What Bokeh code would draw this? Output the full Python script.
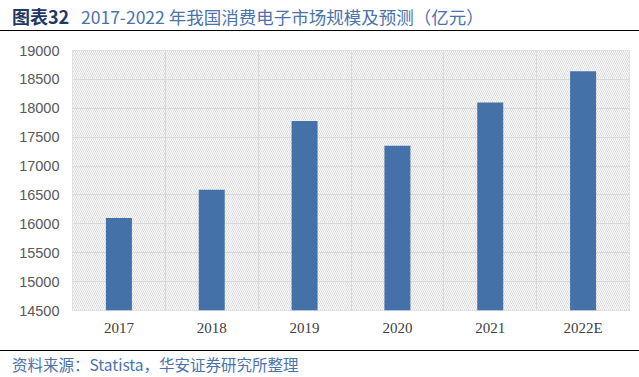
from bokeh.plotting import figure
from bokeh.layouts import column
from bokeh.models import Range1d, FixedTicker, Div
from bokeh.embed import file_html
from bokeh.resources import INLINE

# ---- data ----
categories = ["2017", "2018", "2019", "2020", "2021", "2022E"]
market_size = [16100, 16590, 17780, 17350, 18100, 18640]
y_ticks = [14500, 15000, 15500, 16000, 16500, 17000, 17500, 18000, 18500, 19000]
title_prefix = "图表32"
title_text = "2017-2022 年我国消费电子市场规模及预测（亿元）"
source_text = "资料来源：Statista，华安证券研究所整理"

W = 639
CJK = "'Noto Sans CJK SC'"
BLUE_TXT = "#4A72AC"

# ---- header ----
hdr = Div(width=W, height=32, margin=(0, 0, 0, 0), text=f"""
<div style="position:relative;width:{W}px;height:32px;margin:0;padding:0;">
  <span style="position:absolute;left:12px;top:7px;font-family:{CJK};font-size:18px;font-weight:bold;
        line-height:18px;color:#1F3864;white-space:nowrap;">{title_prefix}</span>
  <span style="position:absolute;left:81px;top:7.5px;font-family:{CJK};font-size:17.5px;
        line-height:18px;color:{BLUE_TXT};white-space:nowrap;">{title_text}</span>
  <div style="position:absolute;left:0;top:30px;width:{W}px;height:0;border-top:1.5px solid black;"></div>
</div>""")

# ---- main chart ----
n = len(categories)
centers = [i + 0.5 for i in range(n)]
p = figure(width=W, height=318, output_backend="svg", toolbar_location=None,
           x_range=Range1d(0, n), y_range=Range1d(y_ticks[0], y_ticks[-1]),
           min_border_left=72, min_border_right=10, min_border_top=18, min_border_bottom=40,
           margin=(0, 0, 0, 0))
p.outline_line_color = "#D9D9D9"
p.background_fill_color = "white"
p.quad(left=[0], right=[n], bottom=[y_ticks[0]], top=[y_ticks[-1]], level="image",
       fill_color="white", line_color=None,
       hatch_pattern="left_diagonal_line", hatch_color="#DADADA",
       hatch_scale=4, hatch_weight=1)
p.vbar(x=centers, top=market_size, bottom=y_ticks[0], width=0.28,
       fill_color="#4472A8", line_color=None)

p.ygrid.ticker = FixedTicker(ticks=y_ticks)
p.xgrid.ticker = FixedTicker(ticks=list(range(n + 1)))
p.grid.grid_line_color = "#D9D9D9"
p.grid.grid_line_width = 1

p.yaxis.ticker = FixedTicker(ticks=y_ticks)
p.xaxis.ticker = FixedTicker(ticks=centers)
p.xaxis.major_label_overrides = {c: lab for c, lab in zip(centers, categories)}
for ax in (p.xaxis[0], p.yaxis[0]):
    ax.axis_line_color = None
    ax.major_tick_line_color = None
    ax.minor_tick_line_color = None
p.yaxis.major_label_text_font = "Liberation Sans"
p.yaxis.major_label_text_font_size = "14.5px"
p.yaxis.major_label_text_color = "#595959"
p.yaxis.major_label_standoff = 7
p.xaxis.major_label_text_font = "Liberation Serif"
p.xaxis.major_label_text_font_size = "15px"
p.xaxis.major_label_text_color = "#404040"
p.xaxis.major_label_standoff = 3

# ---- footer ----
ftr = Div(width=W, height=27, margin=(0, 0, 0, 0), text=f"""
<div style="position:relative;width:{W}px;height:27px;margin:0;padding:0;">
  <div style="position:absolute;left:0;top:0px;width:{W}px;height:0;border-top:1.5px solid black;"></div>
  <span style="position:absolute;left:12px;top:6px;font-family:{CJK};font-size:15.5px;
        line-height:16px;color:{BLUE_TXT};white-space:nowrap;">{source_text}</span>
</div>""")

layout = column(hdr, p, ftr, spacing=0, margin=(0, 0, 0, 0))
open("out.html", "w").write(file_html(layout, INLINE))
